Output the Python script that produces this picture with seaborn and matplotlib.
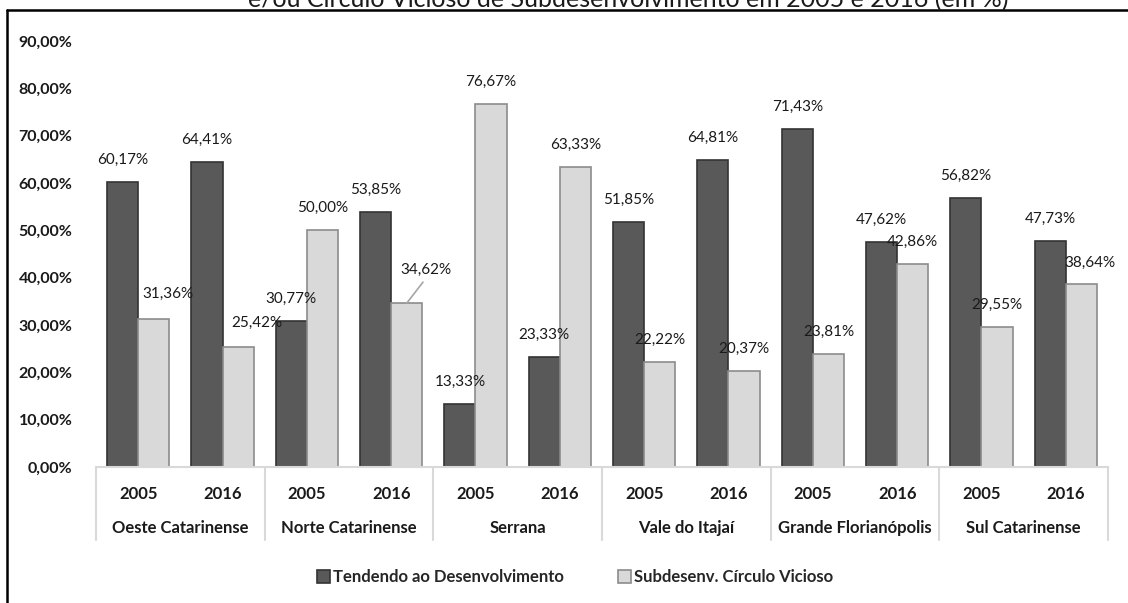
import matplotlib
matplotlib.use("Agg")
import matplotlib.pyplot as plt
from matplotlib.lines import Line2D
import seaborn as sns
import pandas as pd

# data
regioes = ["Oeste Catarinense", "Norte Catarinense", "Serrana",
           "Vale do Itajaí", "Grande Florianópolis", "Sul Catarinense"]
anos = ["2005", "2016"]
series = ["Tendendo ao Desenvolvimento", "Subdesenv. Círculo Vicioso"]
tendendo = [60.17, 64.41, 30.77, 53.85, 13.33, 23.33,
            51.85, 64.81, 71.43, 47.62, 56.82, 47.73]
subdesenv = [31.36, 25.42, 50.00, 34.62, 76.67, 63.33,
             22.22, 20.37, 23.81, 42.86, 29.55, 38.64]
yticks = [0, 10, 20, 30, 40, 50, 60, 70, 80, 90]
titulo = "e/ou Círculo Vicioso de Subdesenvolvimento em 2005 e 2016 (em %)"

slots = [f"{r} {a}" for r in regioes for a in anos]
df = pd.DataFrame({
    "slot": slots * 2,
    "serie": [series[0]] * len(slots) + [series[1]] * len(slots),
    "valor": tendendo + subdesenv,
})

sns.set_theme(style="white")
plt.rcParams["font.family"] = ["Lato", "DejaVu Sans"]

cores = {series[0]: "#595959", series[1]: "#d9d9d9"}
bordas = ["#333333", "#8c8c8c"]

fig = plt.figure(figsize=(11.28, 6.03), dpi=100)
ax = fig.add_axes([96 / 1128, 1 - 467 / 603, (1108 - 96) / 1128, (467 - 41) / 603])

sns.barplot(data=df, x="slot", y="valor", hue="serie", order=slots,
            hue_order=series, palette=cores, width=0.74, gap=0,
            saturation=1, legend=False, ax=ax)

for cont, ec in zip(ax.containers, bordas):
    for p in cont.patches:
        p.set_edgecolor(ec)
        p.set_linewidth(1.2)

# label offsets in pixels (dx, dy) from bar top, default (0, 22)
offsets = {(1, 0): (14, 25), (1, 1): (19, 24), (1, 3): (19, 33), (1, 11): (8, 21)}
px = 0.72
for si, cont in enumerate(ax.containers):
    for i, p in enumerate(cont.patches):
        v = p.get_height()
        xc = p.get_x() + p.get_width() / 2
        dx, dy = offsets.get((si, i), (0, 22))
        txt = f"{v:.2f}%".replace(".", ",")
        if (si, i) == (1, 3):
            ax.annotate("", xy=(xc, v), xytext=(dx * px - 2, (dy - 12) * px),
                        textcoords="offset points",
                        arrowprops=dict(arrowstyle="-", color="#a6a6a6", lw=1.2,
                                        shrinkA=0, shrinkB=0))
        ax.annotate(txt, xy=(xc, v), xytext=(dx * px, dy * px),
                    textcoords="offset points", ha="center", va="center",
                    fontsize=11, color="#1a1a1a")

ax.set_ylim(0, 90)
ax.set_xlim(-0.5, len(slots) - 0.5)
ax.set_yticks(yticks)
ax.set_yticklabels([f"{t:.2f}%".replace(".", ",") for t in yticks],
                   fontsize=11.5, fontweight="bold", color="#1a1a1a")
ax.set_xticks(range(len(slots)))
ax.set_xticklabels(anos * len(regioes), fontsize=12, fontweight="bold",
                   color="#1a1a1a")
ax.tick_params(axis="y", length=0, pad=17)
ax.tick_params(axis="x", length=0, pad=14)
ax.set_xlabel("")
ax.set_ylabel("")
for s in ["top", "right", "left"]:
    ax.spines[s].set_visible(False)
ax.spines["bottom"].set_color("#d9d9d9")
ax.spines["bottom"].set_linewidth(1.5)

# group separators and region names
trans = ax.get_xaxis_transform()
sep_len = (540 - 467) / (467 - 41)
for g in range(len(regioes) + 1):
    ax.add_line(Line2D([g * 2 - 0.5] * 2, [0, -sep_len], transform=trans,
                       color="#d9d9d9", lw=1.5, clip_on=False))
for g, r in enumerate(regioes):
    ax.text(g * 2 + 0.5, -(528 - 467) / (467 - 41), r, transform=trans,
            ha="center", va="center", fontsize=12, fontweight="bold",
            color="#1a1a1a")

# legend
handles = [plt.Rectangle((0, 0), 1, 1, fc=cores[s], ec=ec, lw=1.2)
           for s, ec in zip(series, bordas)]
fig.legend(handles, series, loc="center", ncol=2,
           bbox_to_anchor=(575 / 1128, 1 - 577 / 603), frameon=False,
           handlelength=0.8, handleheight=0.8, handletextpad=0.2,
           columnspacing=3.2, prop={"weight": "bold", "size": 12})

# clipped title and frame
fig.text(628 / 1128, 1.0, titulo, ha="center", va="center", fontsize=18,
         color="#1a1a1a")
fig.add_artist(Line2D([7 / 1128, 1], [1 - 10 / 603] * 2, color="black", lw=1.8))
fig.add_artist(Line2D([7 / 1128] * 2, [0, 1 - 10 / 603], color="black", lw=1.8))

fig.savefig("out.png", dpi=100, facecolor="white")
